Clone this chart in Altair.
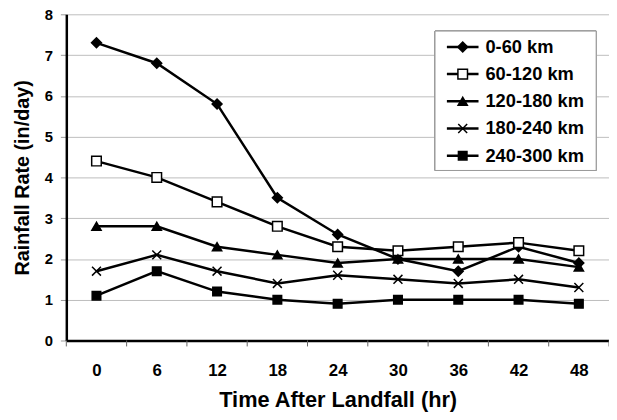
import altair as alt
import pandas as pd

times = [0, 6, 12, 18, 24, 30, 36, 42, 48]
series_names = ["0-60 km", "60-120 km", "120-180 km", "180-240 km", "240-300 km"]
r_0_60 = [7.3, 6.8, 5.8, 3.5, 2.6, 2.0, 1.7, 2.3, 1.9]
r_60_120 = [4.4, 4.0, 3.4, 2.8, 2.3, 2.2, 2.3, 2.4, 2.2]
r_120_180 = [2.8, 2.8, 2.3, 2.1, 1.9, 2.0, 2.0, 2.0, 1.8]
r_180_240 = [1.7, 2.1, 1.7, 1.4, 1.6, 1.5, 1.4, 1.5, 1.3]
r_240_300 = [1.1, 1.7, 1.2, 1.0, 0.9, 1.0, 1.0, 1.0, 0.9]
tick_bounds = [-3, 3, 9, 15, 21, 27, 33, 39, 45, 51]

all_vals = [r_0_60, r_60_120, r_120_180, r_180_240, r_240_300]
rows = []
for name, vals in zip(series_names, all_vals):
    for t, v in zip(times, vals):
        rows.append({"time": t, "rate": v, "series": name})
df = pd.DataFrame(rows)
leg_df = pd.DataFrame({"series": series_names})
bounds_df = pd.DataFrame({"b": tick_bounds})

FONT = "Liberation Sans"
W, H = 549, 330

shape_scale = alt.Scale(
    domain=series_names,
    range=["diamond", "square", "triangle-up", "M-1,-1L1,1M-1,1L1,-1", "square"],
)
fill_scale = alt.Scale(domain=series_names, range=["black", "white", "black", "transparent", "black"])
size_scale = alt.Scale(domain=series_names, range=[100, 75, 100, 90, 85])

x = alt.X(
    "time:Q",
    scale=alt.Scale(domain=[-3, 51], nice=False, zero=False),
    axis=alt.Axis(values=times, ticks=False, grid=False, labelPadding=22, labelFontSize=17,
                  title="Time After Landfall (hr)", titlePadding=12, titleFontSize=22,
                  domainColor="black", domainWidth=2.5),
)
y = alt.Y(
    "rate:Q",
    scale=alt.Scale(domain=[0, 8], nice=False),
    axis=alt.Axis(values=list(range(9)), tickCount=9, grid=True, gridColor="#bdbdbd", gridWidth=1,
                  tickColor="#999999", tickSize=6, labelPadding=8, labelFontSize=15,
                  title="Rainfall Rate (in/day)", titlePadding=12, titleFontSize=20,
                  domainColor="black", domainWidth=2.5),
)

lines = alt.Chart(df).mark_line(color="black", strokeWidth=2.5).encode(x=x, y=y, detail="series:N")
points = alt.Chart(df).mark_point(filled=True, stroke="black", strokeWidth=1.5, opacity=1).encode(
    x=x, y=y,
    shape=alt.Shape("series:N", scale=shape_scale, legend=None),
    fill=alt.Fill("series:N", scale=fill_scale, legend=None),
    size=alt.Size("series:N", scale=size_scale, legend=None),
)
xticks = alt.Chart(bounds_df).mark_rule(color="#666666", strokeWidth=1).encode(
    x=alt.X("b:Q", scale=alt.Scale(domain=[-3, 51], nice=False, zero=False)),
    y=alt.value(H), y2=alt.value(H + 6),
)
main = alt.layer(xticks, lines, points)

ly = alt.Y("series:N", sort=series_names, scale=alt.Scale(type="point", range=[33, 143], padding=0), axis=None)
box = alt.Chart(leg_df).mark_rect(fill="white", stroke="#999999", strokeWidth=1).encode(
    x=alt.value(373), x2=alt.value(536), y=alt.value(17), y2=alt.value(158)
)
leg_line = alt.Chart(leg_df).mark_rule(color="black", strokeWidth=2.5).encode(
    x=alt.value(385), x2=alt.value(417), y=ly
)
leg_pts = alt.Chart(leg_df).mark_point(filled=True, stroke="black", strokeWidth=1.5, opacity=1).encode(
    x=alt.value(401), y=ly,
    shape=alt.Shape("series:N", scale=shape_scale, legend=None),
    fill=alt.Fill("series:N", scale=fill_scale, legend=None),
    size=alt.Size("series:N", scale=size_scale, legend=None),
)
leg_txt = alt.Chart(leg_df).mark_text(align="left", baseline="middle", font=FONT, fontSize=18.5,
                                        fontWeight="bold", color="black").encode(
    x=alt.value(424), y=ly, text="series:N"
)
legend = alt.layer(box, leg_line, leg_pts, leg_txt)

chart = alt.layer(main, legend).resolve_scale(y="independent").properties(
    width=W, height=H,
    autosize=alt.AutoSizeParams(type="none"),
    padding={"left": 59, "top": 4, "right": 0, "bottom": 74},
).configure_view(stroke=None).configure_axis(
    labelFont=FONT, labelFontWeight="bold", labelColor="black",
    titleFont=FONT, titleFontWeight="bold", titleColor="black",
)

chart.save("out.html", embed_options={"renderer": "svg", "actions": False})
